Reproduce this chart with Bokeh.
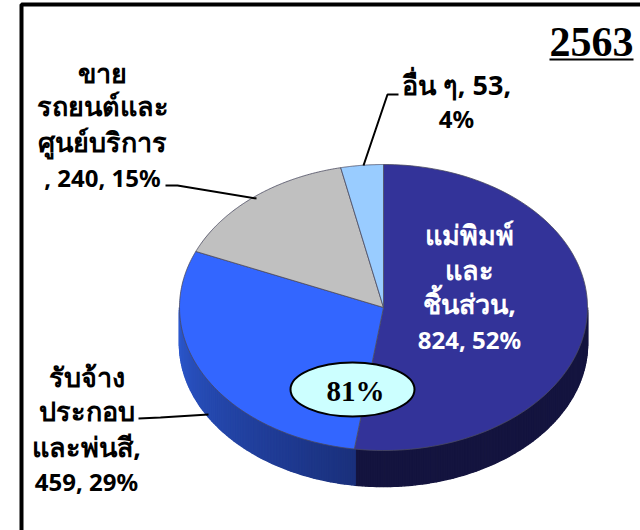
import numpy as np
from bokeh.plotting import figure
from bokeh.core.properties import value
from bokeh.embed import file_html
from bokeh.resources import INLINE

names = ["แม่พิมพ์และชิ้นส่วน", "รับจ้างประกอบและพ่นสี", "ขายรถยนต์และศูนย์บริการ", "อื่น ๆ"]
values = [824, 459, 240, 53]
colors = ["#333399", "#3366ff", "#c0c0c0", "#99ccff"]
year = "2563"
badge = "81%"

label_lines = [
    (["แม่พิมพ์", "และ", "ชิ้นส่วน,", "824, 52%"], 469, [234, 269, 303, 339], "white"),
    (["รับจ้าง", "ประกอบ", "และพ่นสี,", "459, 29%"], 86, [376, 410, 446, 481], "black"),
    (["ขาย", "รถยนต์และ", "ศูนย์บริการ", ", 240, 15%"], 102, [72, 105, 141, 177], "black"),
    (["อื่น ๆ, 53,", "4%"], 456, [84, 118], "black"),
]

CX, CY, RX, RY, DEPTH = 383, 307, 204, 143, 36

p = figure(width=640, height=530, x_range=(0, 640), y_range=(530, 0),
           output_backend="svg", toolbar_location=None, min_border=0,
           outline_line_color=None, background_fill_color="white")
p.axis.visible = False
p.grid.visible = False

fr = np.cumsum([0] + values) / sum(values) * 2 * np.pi

def ex(t):
    return CX + RX * np.sin(t)
def ey(t):
    return CY - RY * np.cos(t)

def mix(a, b, f):
    return "#%02x%02x%02x" % tuple(int(round(x + (y - x) * f)) for x, y in zip(a, b))

ts = np.linspace(np.pi / 2, 3 * np.pi / 2, 181)
xs, ys, cs = [], [], []
for t0, t1 in zip(ts[:-1], ts[1:]):
    tm = (t0 + t1) / 2
    xs.append([ex(t0), ex(t1), ex(t1), ex(t0)])
    ys.append([ey(t0), ey(t1), ey(t1) + DEPTH, ey(t0) + DEPTH])
    if tm < fr[1]:
        cs.append("#14143f")
    else:
        f = (tm - fr[1]) / (3 * np.pi / 2 - fr[1])
        cs.append(mix((0x1a, 0x30, 0x7c), (0x2c, 0x58, 0xcf), f))
p.patches(xs, ys, fill_color=cs, line_color=cs, line_width=1.6)

for i, c in enumerate(colors):
    t = np.linspace(fr[i], fr[i + 1], 120)
    px = np.concatenate([[CX], ex(t)])
    py = np.concatenate([[CY], ey(t)])
    p.patch(px, py, fill_color=c, line_color="#4a4a60", line_width=0.8)

lw = 2
p.line([165, 177, 256], [185, 185, 198], line_color="black", line_width=lw)
p.line([138, 160, 208], [418, 417, 414], line_color="black", line_width=lw)
p.line([398, 387, 363], [94, 94, 165], line_color="black", line_width=lw)

p.ellipse([352], [389], width=124, height=54, fill_color="#ccffff",
          line_color="black", line_width=2)
p.text([355], [390], text=[badge], text_font=value("Liberation Serif"), text_font_style="bold",
       text_font_size="29px", text_align="center", text_baseline="middle", text_color="black")

p.text([591], [41], text=[year], text_font=value("Liberation Serif"), text_font_style="bold",
       text_font_size="42px", text_align="center", text_baseline="middle", text_color="black")
p.line([549, 633], [59, 59], line_color="black", line_width=2)

def is_thai(s):
    return any("\u0e00" <= ch <= "\u0e7f" for ch in s)

for lines, x, ypos, col in label_lines:
    for line, y in zip(lines, ypos):
        size = "27px" if is_thai(line) else "24px"
        p.text([x], [y], text=[line], text_font=value("Noto Sans"), text_font_style="bold",
               text_font_size=size, text_align="center", text_baseline="middle", text_color=col)

p.line([21, 21, 640], [530, 4, 4], line_color="black", line_width=4)

open("out.html", "w").write(file_html(p, INLINE))
